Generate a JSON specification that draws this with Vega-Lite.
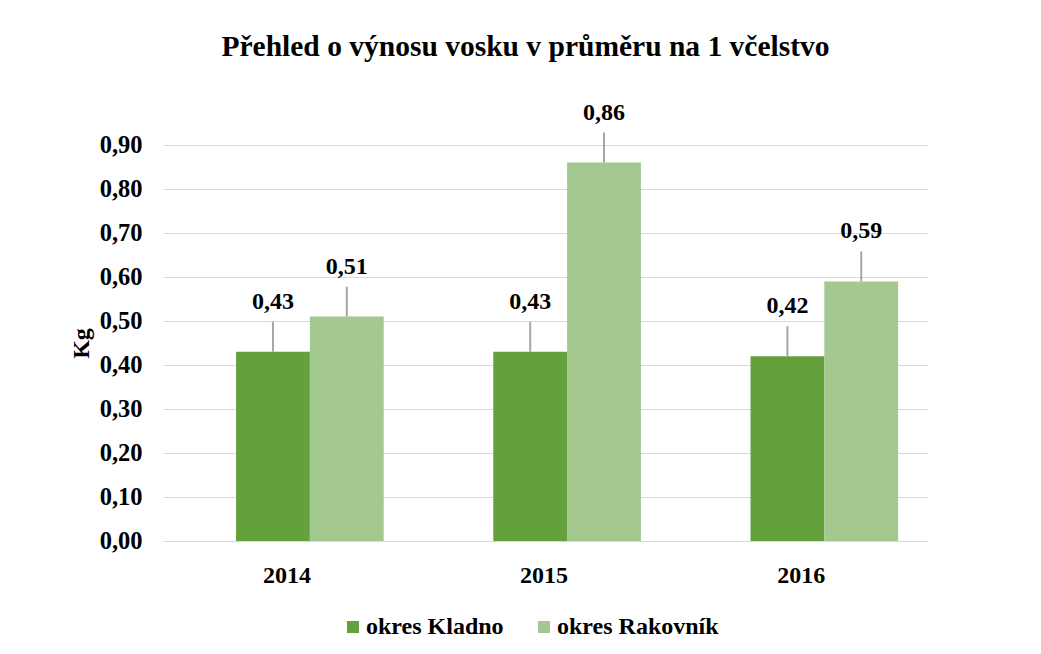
{
  "$schema": "https://vega.github.io/schema/vega-lite/v6.json",
  "autosize": {"type": "none"},
  "width": 765,
  "height": 396,
  "padding": {"left": 163, "top": 145, "right": 113, "bottom": 113},
  "background": "white",
  "config": {
    "locale": {"number": {"decimal": ",", "thousands": " ", "grouping": [3], "currency": ["", " Kč"]}},
    "font": "'Liberation Serif', serif",
    "view": {"stroke": null}
  },
  "title": {
    "text": "Přehled o výnosu vosku v průměru na 1 včelstvo",
    "font": "'Liberation Serif', serif",
    "fontSize": 29.5,
    "fontWeight": "bold",
    "color": "#000000",
    "anchor": "middle",
    "offset": 38,
    "dx": -20
  },
  "data": {
    "values": [
      {"rok": "2014", "okres": "okres Kladno", "kg": 0.43},
      {"rok": "2014", "okres": "okres Rakovník", "kg": 0.51},
      {"rok": "2015", "okres": "okres Kladno", "kg": 0.43},
      {"rok": "2015", "okres": "okres Rakovník", "kg": 0.86},
      {"rok": "2016", "okres": "okres Kladno", "kg": 0.42},
      {"rok": "2016", "okres": "okres Rakovník", "kg": 0.59}
    ]
  },
  "encoding": {
    "x": {
      "field": "rok", "type": "nominal", "title": null,
      "scale": {"paddingInner": 0.426, "paddingOuter": 0.2, "align": 0.71},
      "axis": {"labelAngle": 0, "labelFontSize": 24, "labelFontWeight": "bold", "labelColor": "#000000",
               "labelPadding": 22, "labelOffset": -23, "ticks": false, "domainColor": "#d9d9d9", "labelFont": "'Liberation Serif', serif"}
    },
    "xOffset": {"field": "okres", "type": "nominal", "scale": {"paddingInner": 0}},
    "y": {
      "field": "kg", "type": "quantitative", "title": "Kg",
      "scale": {"domain": [0, 0.9], "nice": false},
      "axis": {"format": ".2f", "values": [0, 0.1, 0.2, 0.3, 0.4, 0.5, 0.6, 0.7, 0.8, 0.9], "labelOverlap": false,
               "labelFontSize": 24.5, "labelFontWeight": "bold", "labelColor": "#000000", "labelFont": "'Liberation Serif', serif",
               "labelPadding": 21, "ticks": false, "domain": false, "gridColor": "#d9d9d9",
               "titleFontSize": 24, "titleFontWeight": "bold", "titleColor": "#000000", "titleFont": "'Liberation Serif', serif",
               "titlePadding": 6}
    }
  },
  "layer": [
    {
      "mark": {"type": "bar"},
      "encoding": {
        "color": {
          "field": "okres", "type": "nominal", "title": null,
          "scale": {"domain": ["okres Kladno", "okres Rakovník"], "range": ["#64a03c", "#a3c890"]},
          "legend": {"orient": "none", "direction": "horizontal", "legendX": 178, "legendY": 470,
                     "labelFontSize": 24, "labelFontWeight": "bold", "labelColor": "#000000", "labelFont": "'Liberation Serif', serif",
                     "labelLimit": 400, "symbolType": "square", "symbolSize": 144, "columnPadding": 28, "labelOffset": 1, "symbolStrokeWidth": 0}
        }
      }
    },
    {
      "mark": {"type": "rule", "color": "#a6a6a6", "strokeWidth": 2, "y2Offset": -30},
      "encoding": {
        "y2": {"field": "kg"}
      }
    },
    {
      "mark": {"type": "text", "dy": -50, "fontSize": 24, "fontWeight": "bold", "color": "#000000", "font": "'Liberation Serif', serif"},
      "encoding": {
        "text": {"field": "kg", "type": "quantitative", "format": ".2f"}
      }
    }
  ]
}
